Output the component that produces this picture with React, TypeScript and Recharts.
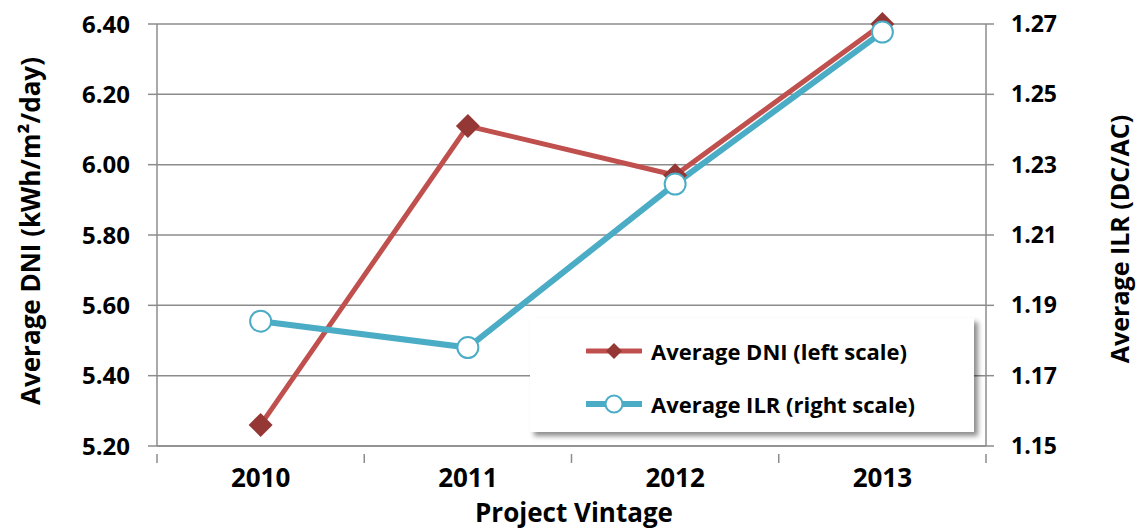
import React from "react";
import { LineChart, Line, XAxis, YAxis, CartesianGrid } from "recharts";

const years = ["2010", "2011", "2012", "2013"];
const dniValues = [5.26, 6.11, 5.97, 6.4];
const ilrValues = [1.1855, 1.178, 1.2245, 1.2677];
const leftTicks = [5.2, 5.4, 5.6, 5.8, 6.0, 6.2, 6.4];
const rightTicks = [1.15, 1.17, 1.19, 1.21, 1.23, 1.25, 1.27];
const xTicks = [0, 0.5, 1, 1.5, 2, 2.5, 3, 3.5, 4];

const data = years.map((year, i) => ({
  x: i + 0.5,
  year,
  dni: dniValues[i],
  ilr: ilrValues[i],
}));

const FONT = "'Open Sans', sans-serif";
const GRID = "#8c8c8c";
const RED = "#C0504D";
const DARK_RED = "#953735";
const BLUE = "#4BACC6";

const Diamond = (props: any) => {
  const { cx, cy } = props;
  if (cx == null || cy == null) return null;
  const r = 12;
  return (
    <polygon
      points={`${cx},${cy - r} ${cx + r},${cy} ${cx},${cy + r} ${cx - r},${cy}`}
      fill={DARK_RED}
    />
  );
};

const OpenCircle = (props: any) => {
  const { cx, cy } = props;
  if (cx == null || cy == null) return null;
  return <circle cx={cx} cy={cy} r={10.5} fill="#fff" stroke={BLUE} strokeWidth={2} />;
};

const XTick = (props: any) => {
  const { x, y, payload } = props;
  const v = payload.value;
  if (Number.isInteger(v)) {
    return <line x1={x} x2={x} y1={y} y2={y + 9} stroke={GRID} strokeWidth={1.5} />;
  }
  const label = years[Math.floor(v)];
  return (
    <text x={x} y={y + 33} textAnchor="middle" fontFamily={FONT} fontWeight={700} fontSize={26} fill="#000">
      {label}
    </text>
  );
};

export default function App() {
  return (
    <div style={{ position: "fixed", left: 0, top: 0, width: 1137, height: 531, background: "#fff" }}>
      <LineChart
        width={1137}
        height={531}
        data={data}
        margin={{ top: 24, right: 41, left: 47, bottom: 35 }}
      >
        <CartesianGrid vertical={false} stroke={GRID} strokeWidth={1.5} yAxisId="left" />
        <XAxis
          dataKey="x"
          type="number"
          domain={[0, 4]}
          ticks={xTicks}
          interval={0}
          height={50}
          axisLine={{ stroke: GRID, strokeWidth: 1.5 }}
          tickLine={false}
          tick={<XTick />}
        />
        <YAxis
          yAxisId="left"
          domain={[5.2, 6.4]}
          ticks={leftTicks}
          width={110}
          interval={0}
          tickFormatter={(v: number) => v.toFixed(2)}
          axisLine={{ stroke: GRID, strokeWidth: 1.5 }}
          tickLine={{ stroke: GRID, strokeWidth: 1.5 }}
          tickSize={9}
          tickMargin={18}
          tick={{ fontFamily: FONT, fontWeight: 700, fontSize: 24, fill: "#000" }}
          label={{
            content: () => (
              <text
                x={30}
                y={231}
                transform="rotate(-90, 30, 231)"
                textAnchor="middle"
                dominantBaseline="central"
                fontFamily={FONT}
                fontWeight={700}
                fontSize={26}
                fill="#000"
              >
                Average DNI (kWh/m²/day)
              </text>
            ),
          }}
        />
        <YAxis
          yAxisId="right"
          orientation="right"
          domain={[1.15, 1.27]}
          ticks={rightTicks}
          width={110}
          interval={0}
          tickFormatter={(v: number) => v.toFixed(2)}
          axisLine={{ stroke: GRID, strokeWidth: 1.5 }}
          tickLine={{ stroke: GRID, strokeWidth: 1.5 }}
          tickSize={8}
          tickMargin={17}
          tick={{ fontFamily: FONT, fontWeight: 700, fontSize: 23, fill: "#000" }}
          label={{
            content: () => (
              <text
                x={1119}
                y={239}
                transform="rotate(-90, 1119, 239)"
                textAnchor="middle"
                dominantBaseline="central"
                fontFamily={FONT}
                fontWeight={700}
                fontSize={25}
                fill="#000"
              >
                Average ILR (DC/AC)
              </text>
            ),
          }}
        />
        <Line
          yAxisId="left"
          dataKey="dni"
          stroke={RED}
          strokeWidth={5}
          dot={<Diamond />}
          activeDot={false}
          isAnimationActive={false}
        />
        <Line
          yAxisId="right"
          dataKey="ilr"
          stroke={BLUE}
          strokeWidth={6}
          dot={<OpenCircle />}
          activeDot={false}
          isAnimationActive={false}
        />
      </LineChart>
      <div
        style={{
          position: "absolute",
          left: 574,
          top: 512,
          transform: "translate(-50%, -50%)",
          fontFamily: FONT,
          fontWeight: 700,
          fontSize: 26,
          lineHeight: "30px",
          whiteSpace: "nowrap",
        }}
      >
        Project Vintage
      </div>
      <div
        style={{
          position: "absolute",
          left: 530,
          top: 318,
          width: 444,
          height: 114,
          background: "#fff",
          boxShadow: "4px 4px 5px rgba(0,0,0,0.45)",
          fontFamily: FONT,
          fontWeight: 700,
          fontSize: 22,
          color: "#000",
        }}
      >
        <div style={{ position: "absolute", left: 56, top: 18, display: "flex", alignItems: "center", whiteSpace: "nowrap" }}>
          <svg width={56} height={20} style={{ marginRight: 9 }}>
            <line x1={1} x2={55} y1={10} y2={10} stroke={RED} strokeWidth={5} strokeLinecap="round" />
            <polygon points="28,2 36,10 28,18 20,10" fill={DARK_RED} />
          </svg>
          Average DNI (left scale)
        </div>
        <div style={{ position: "absolute", left: 56, top: 71, display: "flex", alignItems: "center", whiteSpace: "nowrap" }}>
          <svg width={56} height={22} style={{ marginRight: 9 }}>
            <line x1={1} x2={55} y1={11} y2={11} stroke={BLUE} strokeWidth={6} strokeLinecap="round" />
            <circle cx={28} cy={11} r={8.5} fill="#fff" stroke={BLUE} strokeWidth={2} />
          </svg>
          Average ILR (right scale)
        </div>
      </div>
    </div>
  );
}
